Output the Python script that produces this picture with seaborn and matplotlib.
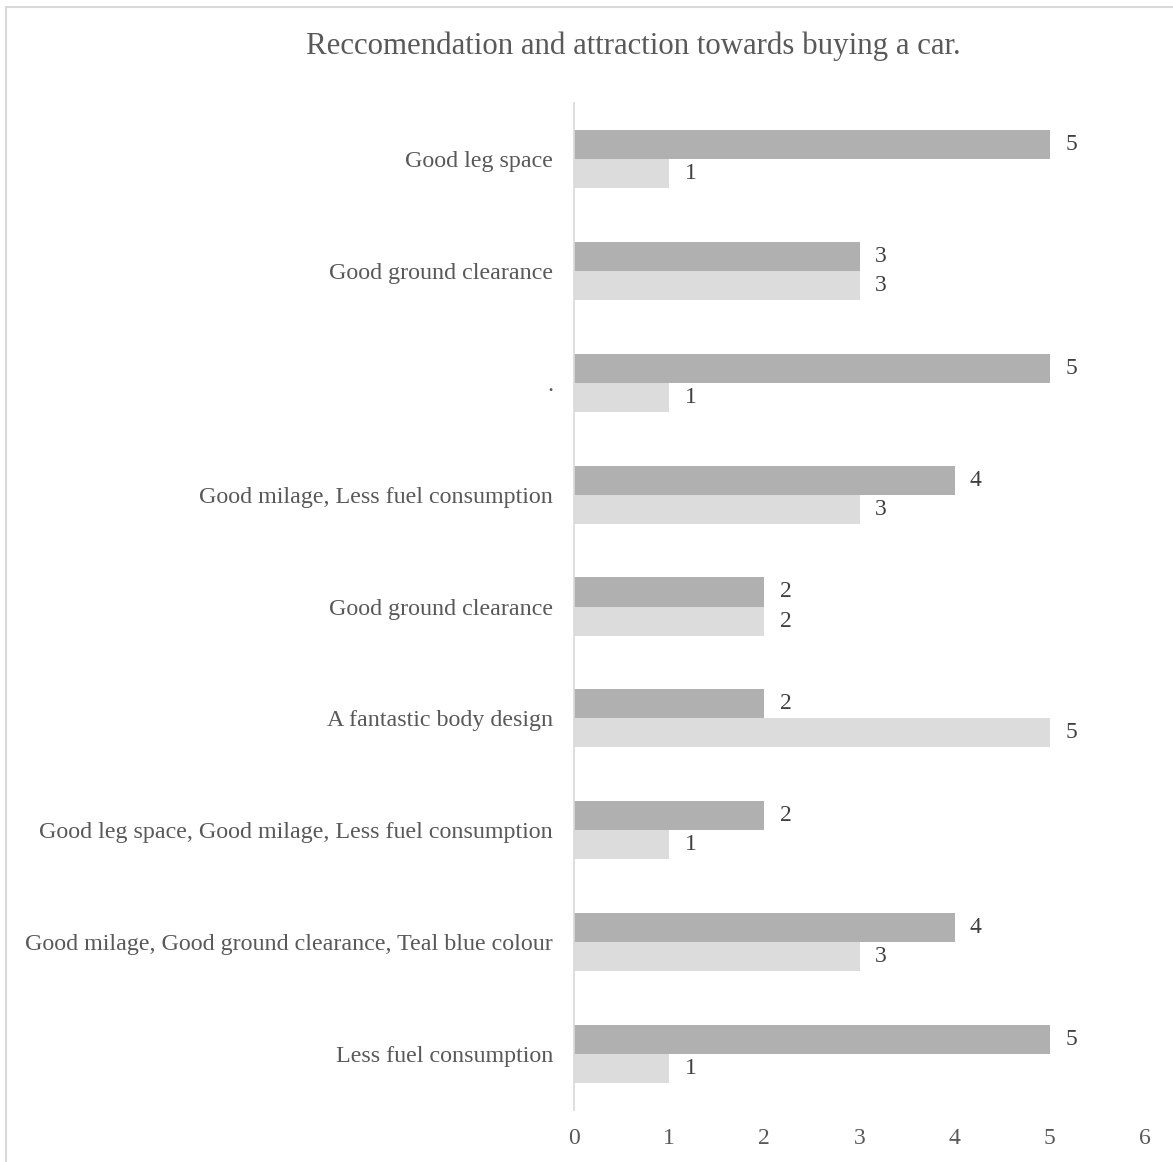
import matplotlib
matplotlib.use("Agg")
import matplotlib.pyplot as plt
import seaborn as sns
import pandas as pd
from matplotlib.patches import Rectangle

categories = [
    "Good leg space",
    "Good ground clearance",
    ".",
    "Good milage, Less fuel consumption",
    "Good ground clearance",
    "A fantastic body design",
    "Good leg space, Good milage, Less fuel consumption",
    "Good milage, Good ground clearance, Teal blue colour",
    "Less fuel consumption",
]
series_names = ["Recommendation", "Attraction"]
recommendation = [5, 3, 5, 4, 2, 2, 2, 4, 5]
attraction = [1, 3, 1, 3, 2, 5, 1, 3, 1]
x_ticks = [0, 1, 2, 3, 4, 5, 6]

sns.set_theme(style="white")
plt.rcParams["font.family"] = ["Liberation Serif", "DejaVu Serif"]

rows = []
for i, c in enumerate(categories):
    rows.append({"key": str(i), "label": c, "series": series_names[0], "value": recommendation[i]})
    rows.append({"key": str(i), "label": c, "series": series_names[1], "value": attraction[i]})
df = pd.DataFrame(rows)

fig = plt.figure(figsize=(11.73, 11.62), dpi=100)
ax = fig.add_axes([574 / 1173, 1 - 1110 / 1162, (1145 - 574) / 1173, (1110 - 103) / 1162])

sns.barplot(data=df, x="value", y="key", hue="series", orient="h",
            order=[str(i) for i in range(len(categories))],
            hue_order=series_names,
            palette=["#B0B0B0", "#DCDCDC"], width=0.52, gap=0,
            saturation=1, errorbar=None, legend=False, linewidth=0, ax=ax)

for cont in ax.containers:
    ax.bar_label(cont, padding=11, fontsize=17, color="#404040")

ax.set_xlim(0, 6)
ax.set_xticks(x_ticks)
ax.set_xticklabels([str(t) for t in x_ticks], fontsize=17, color="#595959")
ax.set_yticks(range(len(categories)))
ax.set_yticklabels(categories, fontsize=17.3, color="#595959")
ax.tick_params(axis="both", length=0)
ax.tick_params(axis="y", pad=15)
ax.tick_params(axis="x", pad=13)
ax.set_xlabel("")
ax.set_ylabel("")
for s in ["top", "right", "bottom"]:
    ax.spines[s].set_visible(False)
ax.spines["left"].set_color("#D9D9D9")
ax.spines["left"].set_linewidth(1.2)
ax.grid(False)

fig.text(633.5 / 1173, 1 - 46 / 1162, "Reccomendation and attraction towards buying a car.",
         ha="center", va="center", fontsize=22.2, color="#595959")

fig.patches.append(Rectangle((6 / 1173, -0.2), 1.2, 1.2 - 7 / 1162, transform=fig.transFigure,
                             fill=False, edgecolor="#D9D9D9", linewidth=1.5))

fig.savefig("out.png", dpi=100, facecolor="white")
